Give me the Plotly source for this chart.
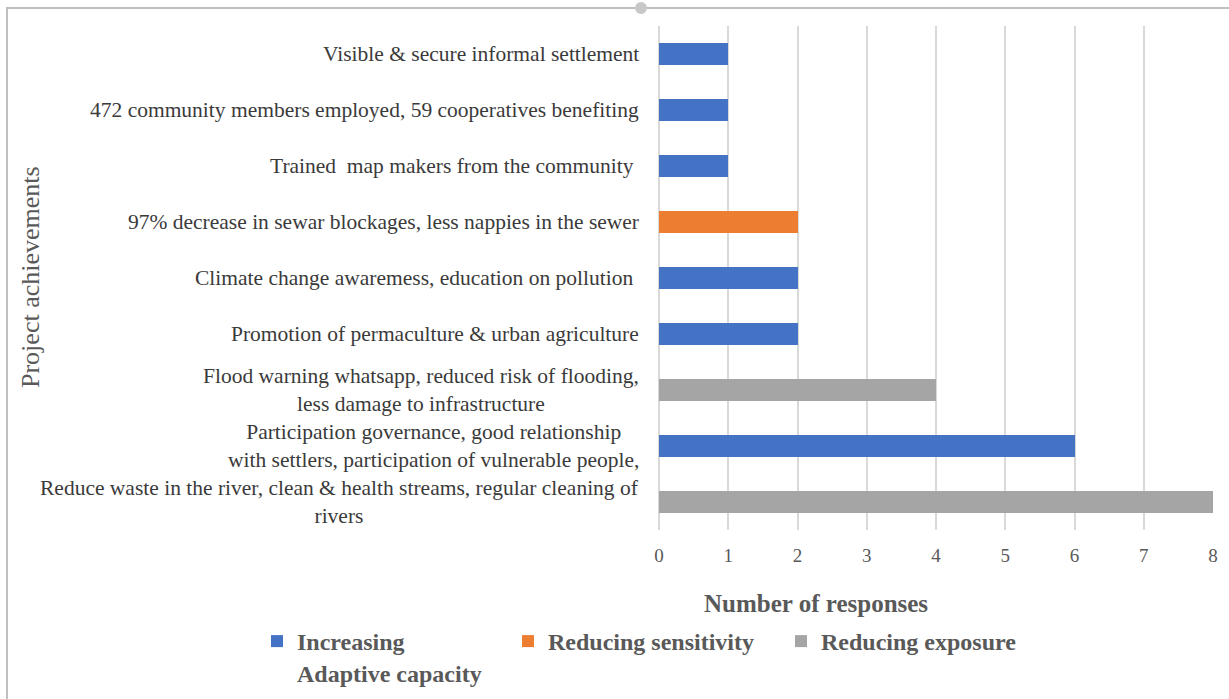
import plotly.graph_objects as go

# Project achievements (top to bottom) and number of responses per impact type
achievements = [
    "Visible & secure informal settlement",
    "472 community members employed, 59 cooperatives benefiting",
    "Trained  map makers from the community ",
    "97% decrease in sewar blockages, less nappies in the sewer",
    "Climate change awaremess, education on pollution ",
    "Promotion of permaculture & urban agriculture",
    "Flood warning whatsapp, reduced risk of flooding,<br>less damage to infrastructure",
    "Participation governance, good relationship<br>with settlers, participation of vulnerable people,",
    "Reduce waste in the river, clean & health streams, regular cleaning of<br>rivers",
]
adaptive_capacity = [1, 1, 1, None, 2, 2, None, 6, None]
reducing_sensitivity = [None, None, None, 2, None, None, None, None, None]
reducing_exposure = [None, None, None, None, None, None, 4, None, 8]
x_ticks = [0, 1, 2, 3, 4, 5, 6, 7, 8]

FONT = "Liberation Serif"
TEXT = "#3a3a3a"
TICK = "#595959"

W, H = 1229, 699
L, R, T, B = 659, 16, 26, 169
pw, ph = W - L - R, H - T - B


def px_x(p):
    return (p - L) / pw


def px_y(p):
    return (H - B - p) / ph


fig = go.Figure()
series = [
    ("Increasing<br>Adaptive capacity", adaptive_capacity, "#4472C4", "legend"),
    ("Reducing sensitivity", reducing_sensitivity, "#ED7D31", "legend2"),
    ("Reducing exposure", reducing_exposure, "#A5A5A5", "legend3"),
]
for name, vals, color, lg in series:
    fig.add_trace(go.Bar(
        y=achievements, x=vals, orientation="h", name=name,
        marker=dict(color=color, line=dict(width=0)), width=0.4,
        legend=lg,
    ))

# category labels, lines centred on each other
for lab in achievements:
    fig.add_annotation(
        x=px_x(641), xref="paper", y=lab, yref="y",
        text=lab, showarrow=False, xanchor="right", yanchor="middle",
        align="center",
        font=dict(family=FONT, size=21.5, color=TEXT),
    )

fig.add_annotation(
    x=px_x(30), xref="paper", y=px_y(277), yref="paper",
    text="Project achievements", textangle=-90, showarrow=False,
    xanchor="center", yanchor="middle",
    font=dict(family=FONT, size=26, color=TICK),
)
fig.add_annotation(
    x=px_x(816), xref="paper", y=px_y(603), yref="paper",
    text="<b>Number of responses</b>", showarrow=False,
    xanchor="center", yanchor="middle",
    font=dict(family=FONT, size=25, color=TICK),
)

# chart frame
fig.add_shape(type="rect", xref="paper", yref="paper",
              x0=px_x(7), x1=px_x(1240), y0=px_y(720), y1=px_y(8),
              line=dict(color="#BFBFBF", width=2), fillcolor="rgba(0,0,0,0)",
              layer="below")
fig.add_shape(type="circle", xref="paper", yref="paper",
              x0=px_x(635), x1=px_x(647), y0=px_y(14), y1=px_y(2),
              line=dict(width=0), fillcolor="#C8C8C8", layer="below")

legend_font = dict(family=FONT, size=24, color=TICK, weight="bold")
common = dict(orientation="h", font=legend_font, bgcolor="rgba(0,0,0,0)",
              xref="container", yref="container", valign="top",
              yanchor="top", xanchor="left", itemclick=False)
legend_top = 1 - 619 / H
fig.update_layout(
    width=W, height=H,
    margin=dict(l=L, r=R, t=T, b=B, pad=0, autoexpand=False),
    paper_bgcolor="white", plot_bgcolor="white",
    barmode="stack",
    showlegend=True,
    legend=dict(x=257 / W, y=legend_top, **common),
    legend2=dict(x=508 / W, y=legend_top, **common),
    legend3=dict(x=781 / W, y=legend_top, **common),
    xaxis=dict(
        range=[0, 8], tickvals=x_ticks, ticktext=[str(v) for v in x_ticks],
        showgrid=True, gridcolor="#D9D9D9", gridwidth=2,
        zeroline=True, zerolinecolor="#D9D9D9", zerolinewidth=2,
        showline=False, ticks="outside", ticklen=8,
        tickcolor="rgba(0,0,0,0)",
        tickfont=dict(family=FONT, size=19, color=TICK),
        fixedrange=True,
    ),
    yaxis=dict(
        type="category", autorange="reversed", showticklabels=False,
        showgrid=False, zeroline=False, showline=False, fixedrange=True,
    ),
)

fig.write_html("out.html")
